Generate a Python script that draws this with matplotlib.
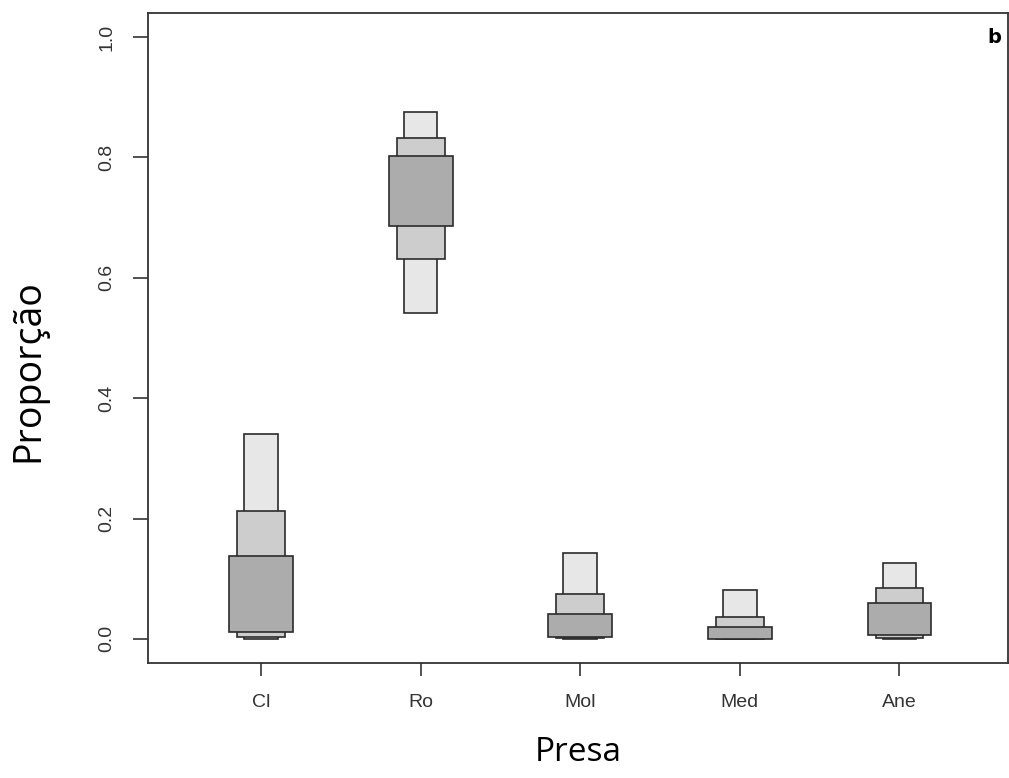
import matplotlib.pyplot as plt
from matplotlib.patches import Rectangle

# prey sources and credible intervals (lower, upper) of the proportions
presas = ["Cl", "Ro", "Mol", "Med", "Ane"]
ic95_low = [0.000, 0.542, 0.000, 0.000, 0.000]
ic95_high = [0.340, 0.875, 0.143, 0.081, 0.126]
ic75_low = [0.003, 0.632, 0.001, 0.000, 0.002]
ic75_high = [0.213, 0.832, 0.075, 0.037, 0.085]
ic50_low = [0.012, 0.686, 0.003, 0.000, 0.007]
ic50_high = [0.137, 0.802, 0.041, 0.020, 0.060]

y_ticks = [0.0, 0.2, 0.4, 0.6, 0.8, 1.0]
y_tick_labels = ["0.0", "0.2", "0.4", "0.6", "0.8", "1.0"]

levels = [
    (ic95_low, ic95_high, 0.21, "#e7e7e7"),
    (ic75_low, ic75_high, 0.30, "#cdcdcd"),
    (ic50_low, ic50_high, 0.40, "#acacac"),
]


def main():
    fig = plt.figure(figsize=(10.09, 7.78), dpi=100)
    ax = fig.add_axes([0.1467, 0.1478, 0.8523, 0.8355])

    for lows, highs, width, colour in levels:
        for i, (lo, hi) in enumerate(zip(lows, highs)):
            x = i + 1
            ax.add_patch(Rectangle((x - width / 2, lo), width, hi - lo,
                                   facecolor=colour, edgecolor="#2b2b2b",
                                   linewidth=1.2))

    ax.set_xlim(0.292, 5.68)
    ax.set_ylim(-0.04, 1.04)
    ax.set_xticks(range(1, len(presas) + 1))
    ax.set_xticklabels(presas, fontsize=14, family="Liberation Sans",
                       color="#333333")
    ax.set_yticks(y_ticks)
    ax.set_yticklabels(y_tick_labels, fontsize=14, family="Liberation Sans",
                       color="#333333", rotation=90, va="center")
    ax.tick_params(axis="both", width=1.2, color="#333333")
    ax.tick_params(axis="x", length=9, pad=13)
    ax.tick_params(axis="y", length=10.5, pad=13)
    for side in ax.spines.values():
        side.set_linewidth(1.3)
        side.set_color("#333333")

    ax.set_xlabel("Presa", fontsize=24, family="Open Sans", labelpad=18)
    ax.set_ylabel("Proporção", fontsize=27, family="Open Sans", labelpad=37)
    ax.yaxis.label.set_y(0.45)

    ax.text(0.992, 0.963, "b", transform=ax.transAxes, fontsize=14,
            fontweight="heavy", ha="right", va="center")

    fig.savefig("out.png", dpi=100)


if __name__ == "__main__":
    main()
